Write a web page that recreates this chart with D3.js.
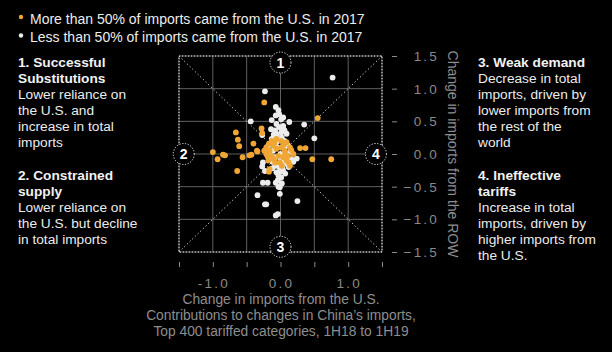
<!DOCTYPE html>
<html>
<head>
<meta charset="utf-8">
<script src="https://cdn.jsdelivr.net/npm/d3@7"></script>
<style>
  body { margin: 0; background: #000; }
  svg { display: block; font-family: "Liberation Sans", Arial, sans-serif; }
</style>
</head>
<body>
<div id="chart"></div>
<script>
// categories where more than 50% of imports came from the U.S. in 2017 [x = U.S., y = ROW]
const moreThanHalf = [
  [-0.24, 0.79], [0.55, 0.55], [-0.28, 0.39], [-0.27, 0.32], [-0.66, 0.33], [-0.63, 0.22],
  [-0.61, 0.12], [-0.40, 0.16], [-1.00, 0.03], [-0.93, -0.08], [-0.85, -0.01], [-0.82, -0.02],
  [-0.56, -0.05], [-0.46, -0.02], [-0.43, -0.01], [-0.34, 0.04], [-0.64, -0.26], [0.29, 0.09],
  [0.37, 0.09], [0.47, -0.08], [0.75, -0.08], [-0.17, -0.27],
  [-0.13, 0.20], [-0.06, 0.23], [0.01, 0.20], [0.09, 0.18], [-0.21, 0.10], [-0.16, 0.05],
  [-0.11, 0.13], [-0.06, 0.08], [0.01, 0.10], [0.06, 0.05], [0.14, 0.10], [-0.21, 0.00],
  [-0.13, -0.03], [-0.03, -0.03], [0.04, -0.05], [0.11, -0.03], [0.19, 0.00], [-0.18, -0.10],
  [-0.08, -0.13], [-0.01, -0.13], [0.09, -0.10], [0.14, -0.18], [-0.16, -0.23], [-0.35, 0.05],
  [-0.09, 0.17], [0.05, 0.14], [-0.17, 0.16], [-0.24, 0.05], [0.16, 0.06], [0.12, -0.13],
  [-0.10, -0.08], [0.07, 0.00], [-0.19, -0.04], [0.02, -0.18]
];

// categories where less than 50% of imports came from the U.S. in 2017
const lessThanHalf = [
  [0.77, 1.17], [-0.23, 0.96], [-0.07, 0.72], [-0.03, 0.67], [-0.07, 0.59], [-0.44, 0.50],
  [-0.13, 0.52], [0.01, 0.53], [0.13, 0.49], [0.35, 0.45], [-0.14, 0.38], [-0.02, 0.41],
  [0.04, 0.39], [0.50, 0.24], [-0.27, 0.29], [0.10, -0.07], [0.24, -0.07], [0.19, -0.12],
  [-0.27, -0.19], [-0.01, -0.27], [-0.26, -0.44], [-0.19, -0.44], [-0.07, -0.44], [-0.03, -0.50],
  [-0.01, -0.61], [-0.34, -0.63], [0.25, -0.72], [-0.23, -0.77], [-0.21, -0.77], [-0.07, -0.94],
  [-0.04, -0.92], [-0.02, 0.61], [0.04, 0.56], [-0.06, 0.46], [0.04, 0.43], [-0.08, 0.36],
  [0.01, 0.33], [0.09, 0.31], [-0.13, 0.23], [-0.06, 0.18], [0.06, 0.20], [-0.18, 0.13],
  [0.11, 0.13], [-0.11, 0.05], [0.14, 0.03], [-0.16, -0.08], [0.16, -0.08], [-0.26, -0.13],
  [-0.08, -0.18], [0.09, -0.15], [-0.23, -0.26], [-0.06, -0.28], [0.04, -0.26], [-0.03, -0.33],
  [0.01, -0.36], [-0.01, -0.51], [-0.05, 0.10], [0.00, 0.00], [-0.08, -0.05], [0.05, -0.12],
  [-0.02, -0.20], [0.02, 0.25], [-0.10, 0.30], [0.06, 0.08], [-0.12, -0.12], [0.00, -0.08],
  [0.08, 0.00], [-0.04, 0.22], [0.03, -0.22], [-0.09, 0.15], [-0.04, -0.40], [0.02, -0.45],
  [-0.12, -0.22], [0.07, -0.30], [-0.05, 0.30], [0.06, 0.36], [-0.15, 0.00], [0.12, -0.20]
];

const gridValues = [-1.5, -1.0, -0.5, 0, 0.5, 1.0, 1.5];
const xTickLabels = [-1.0, 0.0, 1.0];
const yTickLabels = [1.5, 1.0, 0.5, 0.0, -0.5, -1.0, -1.5];

const legendItems = [
  { text: "More than 50% of imports came from the U.S. in 2017", color: "#efa634" },
  { text: "Less than 50% of imports came from the U.S. in 2017", color: "#ececec" }
];

const leftNotes = [
  { head: ["1. Successful", "Substitutions"], body: ["Lower reliance on", "the U.S. and", "increase in total", "imports"] },
  { head: ["2. Constrained", "supply"], body: ["Lower reliance on", "the U.S. but decline", "in total imports"] }
];
const rightNotes = [
  { head: ["3. Weak demand"], body: ["Decrease in total", "imports, driven by", "lower imports from", "the rest of the", "world"] },
  { head: ["4. Ineffective", "tariffs"], body: ["Increase in total", "imports, driven by", "higher imports from", "the U.S."] }
];

// quadrant badges: label and position in data units
const badges = [
  { n: "1", x: 0, y: 1.4 },
  { n: "2", x: -1.43, y: 0 },
  { n: "4", x: 1.41, y: 0 },
  { n: "3", x: 0, y: -1.42 }
];

const xTitle = ["Change in imports from the U.S.",
                "Contributions to changes in China\u2019s imports,",
                "Top 400 tariffed categories, 1H18 to 1H19"];
const yTitle = "Change in imports from the ROW";

const W = 612, H = 352;
const svg = d3.select("#chart").append("svg").attr("width", W).attr("height", H);
svg.append("rect").attr("width", W).attr("height", H).attr("fill", "#000");

const x = d3.scaleLinear().domain([-1.5, 1.5]).range([179, 382]);
const y = d3.scaleLinear().domain([-1.5, 1.5]).range([252, 56]);

// legend
legendItems.forEach((d, i) => {
  svg.append("circle").attr("cx", 21).attr("cy", 17 + i * 18.5).attr("r", 2.2).attr("fill", d.color);
  svg.append("text").attr("x", 30).attr("y", 23.8 + i * 18.5)
     .attr("fill", "#ececec").style("font-size", "14px").text(d.text);
});

// side notes
function drawNotes(notes, x0) {
  let yy = 67;
  notes.forEach((n, k) => {
    if (k > 0) yy += 17;
    n.head.forEach(t => {
      svg.append("text").attr("x", x0).attr("y", yy).attr("fill", "#f2f2f2")
         .style("font-size", "13.7px").style("font-weight", "bold").text(t);
      yy += 16;
    });
    n.body.forEach(t => {
      svg.append("text").attr("x", x0).attr("y", yy).attr("fill", "#ececec")
         .style("font-size", "13.7px").text(t);
      yy += 16;
    });
  });
}
drawNotes(leftNotes, 18);
drawNotes(rightNotes, 478);

// grid
const g = svg.append("g");
g.selectAll(".vg").data(gridValues).enter().append("line")
  .attr("x1", d => x(d)).attr("x2", d => x(d)).attr("y1", y(1.5)).attr("y2", y(-1.5))
  .attr("stroke", "#6a6a6a").attr("stroke-width", 0.9);
g.selectAll(".hg").data(gridValues).enter().append("line")
  .attr("y1", d => y(d)).attr("y2", d => y(d)).attr("x1", x(-1.5)).attr("x2", x(1.5))
  .attr("stroke", "#6a6a6a").attr("stroke-width", 0.9);

// dotted box and diagonals
g.append("rect").attr("x", x(-1.5)).attr("y", y(1.5))
  .attr("width", x(1.5) - x(-1.5)).attr("height", y(-1.5) - y(1.5))
  .attr("fill", "none").attr("stroke", "#eee").attr("stroke-width", 1).attr("stroke-dasharray", "1.2,1.8");
[[-1.5, 1.5, 1.5, -1.5], [-1.5, -1.5, 1.5, 1.5]].forEach(l => {
  g.append("line").attr("x1", x(l[0])).attr("y1", y(l[1])).attr("x2", x(l[2])).attr("y2", y(l[3]))
    .attr("stroke", "#ddd").attr("stroke-width", 1).attr("stroke-dasharray", "1.2,2.5");
});

// axes
const xAxis = svg.append("g").attr("transform", "translate(0,262)")
  .call(d3.axisBottom(x).tickValues(gridValues).tickSize(5).tickFormat(""));
xAxis.select(".domain").remove();
xAxis.selectAll("line").attr("stroke", "#8a8a8a");
svg.selectAll(".xl").data(xTickLabels).enter().append("text")
  .attr("x", d => x(d) + 1).attr("y", 288).attr("text-anchor", "middle")
  .attr("fill", "#8a8a8a").style("font-size", "13.5px").style("letter-spacing", "2.2px")
  .text(d => d3.format(".1f")(d).replace("\u2212", "-"));

const yAxis = svg.append("g").attr("transform", "translate(392,0)")
  .call(d3.axisRight(y).tickValues(gridValues).tickSize(5).tickFormat(""));
yAxis.select(".domain").remove();
yAxis.selectAll("line").attr("stroke", "#8a8a8a");
svg.selectAll(".yl").data(yTickLabels).enter().append("text")
  .attr("x", 439).attr("y", d => y(d) + 5).attr("text-anchor", "end")
  .attr("fill", "#8a8a8a").style("font-size", "13.5px").style("letter-spacing", "2.2px")
  .text(d => d3.format(".1f")(d));

// axis titles
xTitle.forEach((t, i) => {
  svg.append("text").attr("x", 281).attr("y", 303.8 + i * 16.2).attr("text-anchor", "middle")
    .attr("fill", "#8e8e8e").style("font-size", "13.8px").text(t);
});
svg.append("text").attr("transform", `translate(448,${y(0)}) rotate(90)`)
  .attr("text-anchor", "middle").attr("fill", "#8e8e8e").style("font-size", "14px").text(yTitle);

// points
const dots = svg.append("g");
dots.selectAll(".w").data(lessThanHalf).enter().append("circle")
  .attr("cx", d => x(d[0])).attr("cy", d => y(d[1])).attr("r", 2.9).attr("fill", "#ececec");
dots.selectAll(".o").data(moreThanHalf).enter().append("circle")
  .attr("cx", d => x(d[0])).attr("cy", d => y(d[1])).attr("r", 2.9).attr("fill", "#efa634");

// quadrant badges
const b = svg.selectAll(".badge").data(badges).enter().append("g")
  .attr("transform", d => `translate(${x(d.x)},${y(d.y)})`);
b.append("circle").attr("r", 10.5).attr("fill", "#000").attr("stroke", "#eee")
  .attr("stroke-width", 1).attr("stroke-dasharray", "1.2,1.6");
b.append("text").attr("y", 5).attr("text-anchor", "middle").attr("fill", "#fff")
  .style("font-size", "14px").style("font-weight", "bold").text(d => d.n);
</script>
</body>
</html>
